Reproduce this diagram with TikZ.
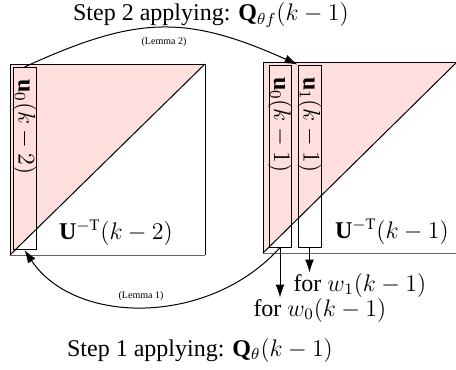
\documentclass[tikz,border=0pt]{standalone}
\usepackage{fontspec}
\setmainfont{Liberation Serif}
\usetikzlibrary{arrows.meta}
\definecolor{trpink}{RGB}{255,222,222}

\begin{document}
\begin{tikzpicture}[x=0.5pt, y=-0.5pt, line width=0.5pt,
    font=\fontsize{12}{14}\selectfont,
    colbox/.style={draw, inner sep=0pt, minimum height=91pt},
    collabel/.style={rotate=-90, anchor=west, inner sep=0pt},
    forlabel/.style={anchor=west, inner sep=0pt},
    steptext/.style={inner sep=1pt},
    steparrow/.style={-{Latex[length=6.5pt,width=4.5pt]}},
    lemmalabel/.style={font=\fontsize{5}{6}\selectfont}]
    \useasboundingbox (0,0) rectangle (456,370);

    % Left matrix
    \fill[trpink] (10,64) -- (205,64) -- (10,255) -- cycle;
    \draw (10,255) -- (10,64) -- (205,64) -- (205,255);
    \draw[black!60] (10,255) -- (205,255);
    \draw (205,64) -- (10,255);
    \node[colbox, minimum width=11.5pt] (u0L) at (24.5,158.5) {};
    \node[collabel] (u0Ltxt) at ([yshift=-6pt]u0L.north) {$\mathbf{u}_0(k-2)$};
    \node (UL) at (116,233) {$\mathbf{U}^{-\mathrm{T}}(k-2)$};

    % Right matrix (cut at the right border)
    \fill[trpink] (263,62) -- (457,62) -- (263,253) -- cycle;
    \draw (263,253) -- (263,62) -- (457,62);
    \draw[black!60] (263,253) -- (457,253);
    \draw (457,62) -- (263,253);
    \node[colbox, minimum width=11pt] (u0R) at (280,156) {};
    \node[colbox, minimum width=11.5pt] (u1R) at (309.5,156) {};
    \node[collabel] (u0Rtxt) at ([yshift=-6pt]u0R.north) {$\mathbf{u}_0(k-1)$};
    \node[collabel] (u1Rtxt) at ([yshift=-6pt]u1R.north) {$\mathbf{u}_1(k-1)$};
    \node (UR) at (392,232) {$\mathbf{U}^{-\mathrm{T}}(k-1)$};

    % Outputs
    \node[forlabel] (w1lab) at (293,285) {for $w_1(k-1)$};
    \node[forlabel] (w0lab) at (253,310) {for $w_0(k-1)$};
    \draw[steparrow] (u1R.south) -- (u1R.south |- w1lab.north);
    \draw[steparrow] (u0R.south) -- (u0R.south |- w0lab.north);

    % Step 2 (Lemma 2)
    \draw[steparrow] (u0L.north) .. controls (136,16) and (185,14) .. (u1R.north west);
    \node[lemmalabel] (lem2) at (164,42) {(Lemma 2)};
    \node[steptext] (step2) at (211,15) {Step 2 applying: $\mathbf{Q}_{\theta f}(k-1)$};

    % Step 1 (Lemma 1)
    \draw[steparrow] (u0R.south) .. controls (210,326) and (75,326) .. (u0L.south);
    \node[lemmalabel] (lem1) at (141,296) {(Lemma 1)};
    \node[steptext] (step1) at (200,350) {Step 1 applying: $\mathbf{Q}_{\theta}(k-1)$};
\end{tikzpicture}
\end{document}
